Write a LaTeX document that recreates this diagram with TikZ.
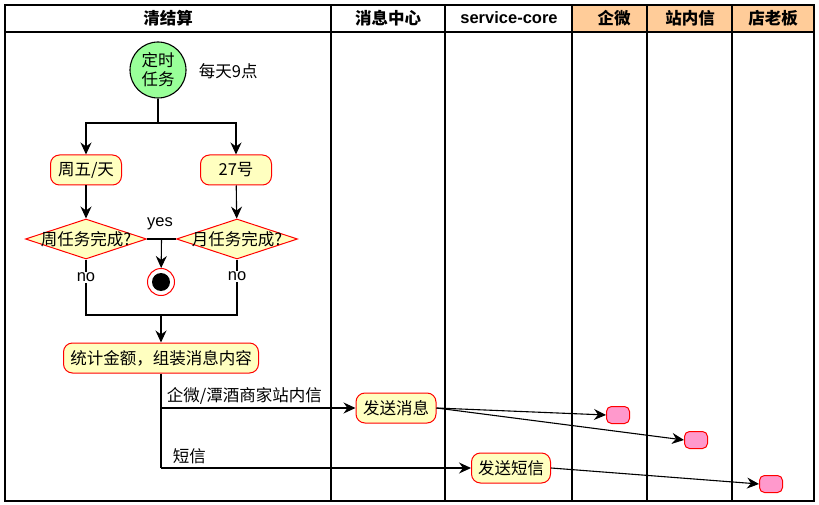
\documentclass[tikz,border=0pt]{standalone}
\usepackage{fontspec}
\setmainfont{Noto Sans CJK SC}
\newfontfamily\latin{Liberation Sans}
\usetikzlibrary{shapes.geometric,arrows.meta}
\definecolor{actfill}{HTML}{FFFFC0}
\definecolor{startfill}{HTML}{99FF99}
\definecolor{targetfill}{HTML}{FF99CC}
\definecolor{headfill}{HTML}{FFCC99}
\tikzset{
  txt/.style={font=\fontsize{16.5}{19}\selectfont},
  head/.style={font=\fontsize{16.5}{19}\selectfont\bfseries},
  act/.style={txt,draw=red,line width=1pt,fill=actfill,rounded corners=9pt,minimum height=30pt,inner xsep=3pt},
  check/.style={txt,diamond,draw=red,line width=1pt,fill=actfill,minimum width=121pt,minimum height=40pt,inner sep=0pt},
  target/.style={draw=red,line width=1pt,fill=targetfill,rounded corners=5pt,minimum width=23pt,minimum height=17pt,inner sep=0pt},
  lbl/.style={txt,fill=white,inner sep=1pt}
}
\begin{document}
\begin{tikzpicture}[x=1pt,y=-1pt,line width=1.1pt,>={Stealth[length=12pt,width=11pt,inset=4pt]}]
  \useasboundingbox[fill=white] (0,0) rectangle (819,505);
  % lanes
  \fill[headfill] (572,5) rectangle (814,32);
  \draw[line width=1.3pt] (5,5) rectangle (814,501);
  \draw (5,32) -- (814,32);
  \foreach \x in {331,445,572,647,732}
    \draw (\x,5) -- (\x,501);
  \node[head] (lane1) at (168,18) {清结算};
  \node[head] (lane2) at (388,18) {消息中心};
  \node[head] (lane3) at (509,18) {\latin service-core};
  \node[head] (lane4) at (614,18) {企微};
  \node[head] (lane5) at (690,18) {站内信};
  \node[head] (lane6) at (773,18) {店老板};

  \node[txt,circle,draw,fill=startfill,minimum size=56pt,inner sep=0pt,align=center] (timer) at (158,70) {定时\\[0pt]任务};
  \node[txt,anchor=west] (daily) at (195,71) {每天9点};
  \coordinate (fork) at (158,123);
  \node[act,minimum width=71pt] (weekly) at (86,170) {周五/天};
  \node[act,minimum width=71pt] (monthly) at (236,170) {27号};
  \draw (timer) -- (fork);
  \draw[->] (fork) -| (weekly);
  \draw[->] (fork) -| (monthly);

  \node[check] (wcheck) at (86,239) {\makebox[0pt]{周任务完成?}};
  \node[check] (mcheck) at (237,239) {\makebox[0pt]{月任务完成?}};
  \draw[->] (weekly) -- (wcheck);
  \draw[->] (monthly) -- (mcheck);

  % yes
  \node[circle,draw=red,fill=white,line width=1pt,minimum size=27pt,inner sep=0pt] (stop) at (161,282) {};
  \fill (stop) circle (9);
  \draw (wcheck.east) -- (mcheck.west) coordinate[pos=0.5] (yesjoin);
  \node[txt] (yes) at (160,224) {\latin yes};
  \draw[->] (yesjoin) -- (stop);

  % no
  \coordinate (wjoin) at (86,315);
  \coordinate (mjoin) at (237,315);
  \coordinate (njoin) at (161,315);
  \draw (wcheck.south) -- node[lbl,pos=0.32] {\latin no} (wjoin) -- (mjoin) -- node[lbl,pos=0.7] {\latin no} (mcheck.south);
  \node[act,minimum width=195pt] (sum) at (161,358) {统计金额，组装消息内容};
  \draw[->] (njoin) -- (sum);

  % send
  \node[act,minimum width=80pt] (send) at (396,408) {发送消息};
  \node[act,minimum width=79pt] (sms) at (511,468) {发送短信};
  \coordinate (b1) at (161,408);
  \coordinate (b2) at (161,468);
  \draw (sum) -- (b2);
  \draw[->] (b1) -- node[txt,pos=0,anchor=south west,xshift=2pt] {企微/潭酒商家站内信} (send);
  \draw[->] (b2) -- node[txt,pos=0,anchor=south west,xshift=8pt] {短信} (sms);

  \node[target] (qw) at (618,415) {};
  \node[target] (znx) at (696,440) {};
  \node[target] (dlb) at (771,484) {};
  \draw[->] (send.east) -- (qw.west);
  \draw[->] (send.east) -- (znx.west);
  \draw[->] (sms.east) -- (dlb.west);
\end{tikzpicture}
\end{document}
